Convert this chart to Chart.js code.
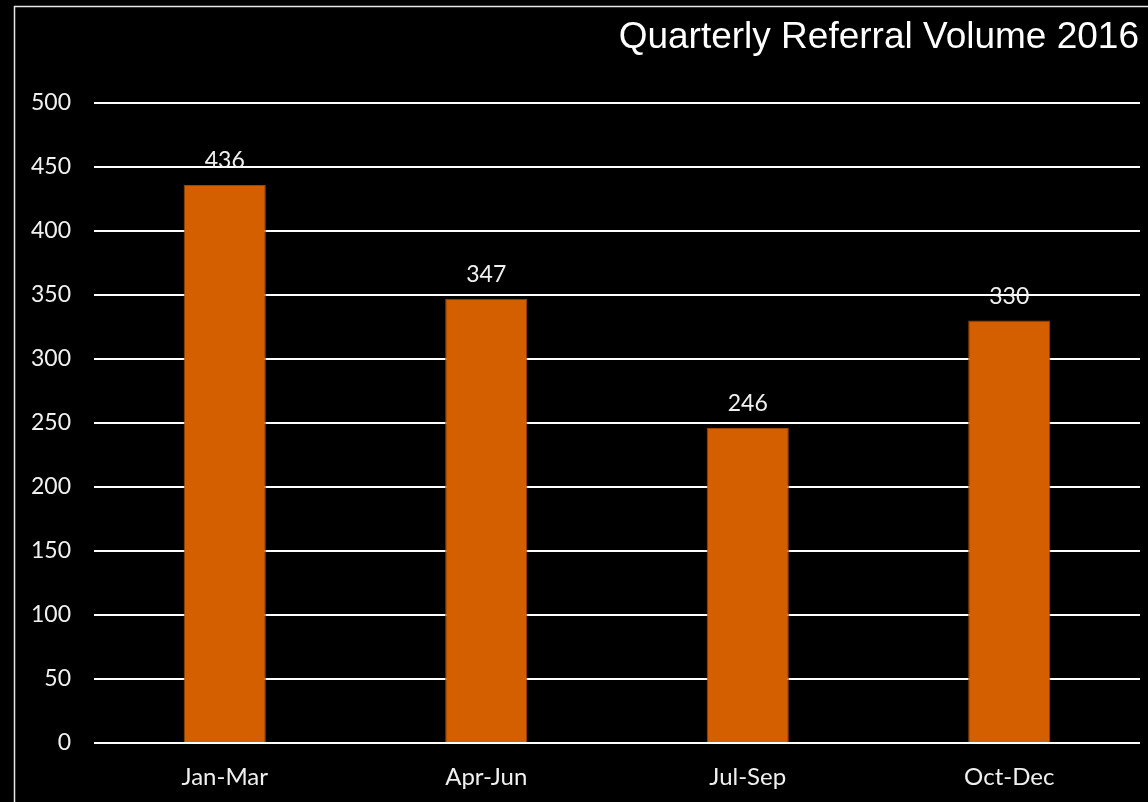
<!DOCTYPE html>
<html>
<head>
<meta charset="utf-8">
<script src="https://cdn.jsdelivr.net/npm/chart.js@4.4.1/dist/chart.umd.min.js"></script>
<style>
  html, body { margin: 0; padding: 0; background: #000; }
  #wrap { width: 1148px; height: 802px; position: relative; }
</style>
</head>
<body>
<div id="wrap"><canvas id="c" width="1148" height="802"></canvas></div>
<script>
const categories = ["Jan-Mar", "Apr-Jun", "Jul-Sep", "Oct-Dec"];
const referrals = [436, 347, 246, 330];
const yTicks = [0, 50, 100, 150, 200, 250, 300, 350, 400, 450, 500];
const chartTitle = "Quarterly Referral Volume 2016";

const tickFont = { family: "Lato, 'Open Sans', sans-serif", size: 23 };
const catFont = { family: "Lato, 'Open Sans', sans-serif", size: 24 };

const framePlugin = {
  id: 'frame',
  beforeDraw(chart) {
    const ctx = chart.ctx;
    ctx.save();
    ctx.fillStyle = '#000';
    ctx.fillRect(0, 0, chart.width, chart.height);
    ctx.strokeStyle = '#e8e8e8';
    ctx.lineWidth = 1.5;
    ctx.strokeRect(14.5, 6.5, chart.width + 20, chart.height + 20);
    ctx.restore();
  },
  afterDraw(chart) {
    const ctx = chart.ctx;
    ctx.save();
    ctx.fillStyle = '#ffffff';
    ctx.font = "37px 'Liberation Sans', Arial, sans-serif";
    ctx.textAlign = 'right';
    ctx.textBaseline = 'alphabetic';
    ctx.fillText(chartTitle, 1139, 48);
    ctx.restore();
  }
};

const valueLabels = {
  id: 'valueLabels',
  afterDatasetsDraw(chart) {
    const ctx = chart.ctx;
    const meta = chart.getDatasetMeta(0);
    ctx.save();
    ctx.fillStyle = '#f0f0f0';
    ctx.font = "23px Lato, 'Open Sans', sans-serif";
    ctx.textAlign = 'center';
    ctx.textBaseline = 'alphabetic';
    meta.data.forEach((bar, i) => {
      ctx.fillText(String(chart.data.datasets[0].data[i]), bar.x, bar.y - 17);
    });
    ctx.restore();
  }
};

new Chart(document.getElementById('c'), {
  type: 'bar',
  data: {
    labels: categories,
    datasets: [{
      data: referrals,
      backgroundColor: '#D35F00',
      borderColor: '#9A4500',
      borderWidth: 1,
      barPercentage: 1,
      categoryPercentage: 0.314
    }]
  },
  options: {
    responsive: false,
    animation: false,
    devicePixelRatio: 1,
    layout: { padding: { left: 0, right: 8, top: 103, bottom: 0 } },
    plugins: {
      legend: { display: false },
      title: { display: false },
      tooltip: { enabled: false }
    },
    scales: {
      x: {
        grid: { display: false, drawTicks: false },
        border: { display: false },
        ticks: { color: '#f0f0f0', font: catFont, padding: 20 },
        afterFit(scale) { scale.height = 59; }
      },
      y: {
        min: 0,
        max: 500,
        afterBuildTicks(scale) { scale.ticks = yTicks.map(v => ({ value: v })); },
        grid: { color: '#ffffff', lineWidth: 2, drawTicks: false },
        border: { display: false },
        ticks: { color: '#f0f0f0', font: tickFont, padding: 23 },
        afterFit(scale) { scale.width = 94; }
      }
    }
  },
  plugins: [framePlugin, valueLabels]
});
</script>
</body>
</html>
